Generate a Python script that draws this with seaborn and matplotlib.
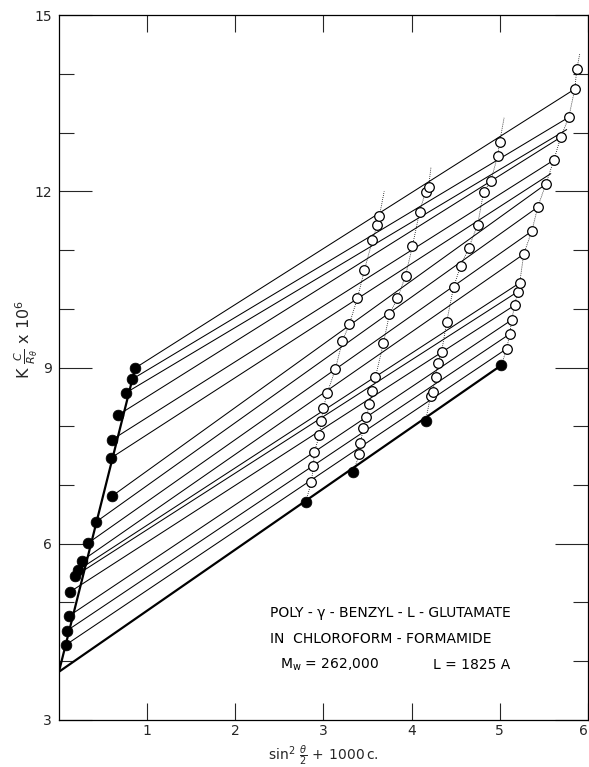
import matplotlib
matplotlib.use("Agg")
import matplotlib.pyplot as plt
import numpy as np
import pandas as pd
import seaborn as sns
from matplotlib.ticker import FixedLocator, MultipleLocator

sns.set_style("ticks")
plt.rcParams["font.family"] = ["DejaVu Sans"]
plt.rcParams["mathtext.fontset"] = "dejavusans"

# extrapolated c = 0 points (one per scattering angle), top to bottom
c0_x = [0.864, 0.830, 0.761, 0.670, 0.602, 0.591, 0.602, 0.420,
        0.330, 0.261, 0.216, 0.182, 0.125, 0.114, 0.091, 0.080]
c0_y = [8.99, 8.80, 8.57, 8.19, 7.77, 7.46, 6.81, 6.37,
        6.01, 5.71, 5.55, 5.45, 5.18, 4.77, 4.52, 4.28]

# right-hand ends of the fitted constant-angle lines
end_x = [5.852, 5.784, 5.760, 5.693, 5.614, 5.580, 5.523, 5.432,
         5.364, 5.273, 5.227, 5.205, 5.170, 5.136, 5.114, 5.080]
end_y = [13.74, 13.26, 13.05, 12.92, 12.53, 12.30, 12.12, 11.73,
         11.32, 10.93, 10.44, 10.29, 10.06, 9.81, 9.57, 9.32]

# extrapolated theta = 0 points (one per concentration)
t0_x = [2.80, 3.34, 4.16, 5.02]
t0_y = [6.71, 7.22, 8.09, 9.04]

# measured points, one list per concentration (low angle -> high angle)
c1_x = [2.864, 2.886, 2.898, 2.955, 2.977, 3.000, 3.045, 3.136,
        3.216, 3.295, 3.386, 3.466, 3.557, 3.614, 3.636]
c1_y = [7.05, 7.32, 7.56, 7.85, 8.09, 8.31, 8.57, 8.97,
        9.45, 9.74, 10.18, 10.66, 11.17, 11.43, 11.58]
c2_x = [3.409, 3.420, 3.455, 3.489, 3.523, 3.557, 3.591, 3.682,
        3.750, 3.841, 3.932, 4.011, 4.091, 4.159, 4.193]
c2_y = [7.53, 7.72, 7.97, 8.16, 8.38, 8.60, 8.84, 9.42,
        9.91, 10.18, 10.56, 11.07, 11.65, 11.99, 12.07]
c3_x = [4.216, 4.239, 4.273, 4.295, 4.341, 4.398, 4.477, 4.557,
        4.648, 4.750, 4.818, 4.898, 4.977, 5.000]
c3_y = [8.52, 8.58, 8.84, 9.08, 9.26, 9.77, 10.37, 10.73,
        11.03, 11.43, 11.99, 12.17, 12.60, 12.84]
c4_x = [5.080, 5.114, 5.136, 5.170, 5.205, 5.227, 5.273, 5.364,
        5.432, 5.523, 5.614, 5.693, 5.784, 5.852, 5.875]
c4_y = [9.32, 9.57, 9.81, 10.06, 10.29, 10.44, 10.93, 11.32,
        11.73, 12.12, 12.53, 12.92, 13.26, 13.74, 14.08]

# upper ends of the dotted constant-concentration curves
dot_top_x = [3.69, 4.22, 5.05, 5.91]
dot_top_y = [12.00, 12.40, 13.25, 14.35]

# the two limiting lines (c = 0 and theta = 0)
c0_line_x = [0.0, 0.87]
c0_line_y = [3.82, 9.02]
t0_line_x = [0.0, 5.02]
t0_line_y = [3.82, 9.04]

# ---- tables for seaborn ----
angle_lines = pd.DataFrame({
    "x": np.ravel(np.column_stack([c0_x, end_x])),
    "y": np.ravel(np.column_stack([c0_y, end_y])),
    "line": np.repeat(np.arange(len(c0_x)), 2),
})

conc_x = [c1_x, c2_x, c3_x, c4_x]
conc_y = [c1_y, c2_y, c3_y, c4_y]
dot_rows = []
open_rows = []
for i in range(4):
    xs = [t0_x[i]] + conc_x[i] + [dot_top_x[i]]
    ys = [t0_y[i]] + conc_y[i] + [dot_top_y[i]]
    for x, y in zip(xs, ys):
        dot_rows.append({"x": x, "y": y, "conc": i})
    for x, y in zip(conc_x[i], conc_y[i]):
        open_rows.append({"x": x, "y": y})
dotted = pd.DataFrame(dot_rows)
open_pts = pd.DataFrame(open_rows)
filled_pts = pd.DataFrame({"x": c0_x + t0_x, "y": c0_y + t0_y})
limits = pd.DataFrame({
    "x": c0_line_x + t0_line_x,
    "y": c0_line_y + t0_line_y,
    "line": [0, 0, 1, 1],
})

fig = plt.figure(figsize=(5.89, 7.67), dpi=100)
ax = fig.add_axes([0.100, 0.0613, 0.898, 0.9191])

sns.lineplot(data=dotted, x="x", y="y", units="conc", estimator=None, sort=False,
             color="k", lw=0.6, ls=(0, (1, 1.5)), ax=ax, legend=False)
sns.lineplot(data=angle_lines, x="x", y="y", units="line", estimator=None, sort=False,
             color="k", lw=0.75, ax=ax, legend=False)
sns.lineplot(data=limits, x="x", y="y", units="line", estimator=None, sort=False,
             color="k", lw=1.6, ax=ax, legend=False)
sns.scatterplot(data=open_pts, x="x", y="y", marker="o", s=48, facecolor="white",
                edgecolor="k", linewidth=0.9, ax=ax, zorder=5)
sns.scatterplot(data=filled_pts, x="x", y="y", marker="o", s=60, color="k",
                edgecolor="k", linewidth=0.5, ax=ax, zorder=6)

ax.set_xlim(0, 6)
ax.set_ylim(3, 15)
ax.xaxis.set_major_locator(FixedLocator([1, 2, 3, 4, 5, 6]))
ax.yaxis.set_major_locator(MultipleLocator(3))
ax.yaxis.set_minor_locator(MultipleLocator(1))
ax.tick_params(axis="x", which="major", direction="in", length=12, width=0.8,
               top=True, bottom=True, labelsize=10, pad=3)
ax.tick_params(axis="y", which="major", direction="in", length=24, width=0.8,
               left=True, right=True, labelsize=10, pad=5)
ax.tick_params(axis="y", which="minor", direction="in", length=11, width=0.8,
               left=True, right=True)
for s in ax.spines.values():
    s.set_linewidth(0.9)
    s.set_color("k")
fig.canvas.draw()
ax.get_xticklabels()[-1].set_horizontalalignment("right")

ax.set_xlabel(r"$\sin^2\,\frac{\theta}{2}\,+\,1000\,\mathrm{c.}$", fontsize=10, labelpad=4)
ax.set_ylabel(r"K $\frac{C}{R_\theta}$ x 10$^6$", fontsize=11.5)
ax.yaxis.set_label_coords(-0.035, 0.54)

txt = dict(fontsize=10, color="k", ha="left", va="center")
ax.text(2.39, 4.82, "POLY - \u03b3 - BENZYL - L - GLUTAMATE", **txt)
ax.text(2.39, 4.38, "IN  CHLOROFORM - FORMAMIDE", **txt)
ax.text(2.51, 3.94, r"M$_\mathrm{w}$ = 262,000", **txt)
ax.text(4.24, 3.94, "L = 1825 A", **txt)

fig.savefig("out.png", dpi=100)
